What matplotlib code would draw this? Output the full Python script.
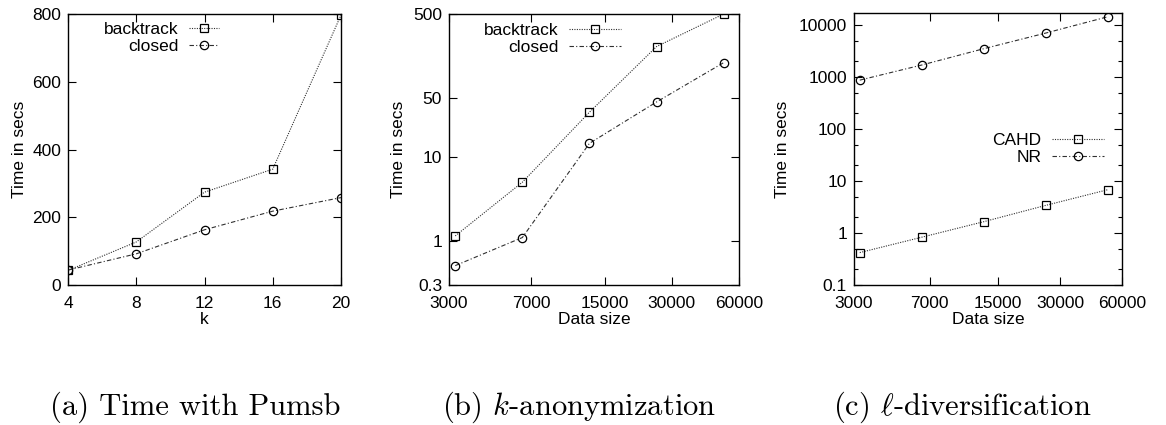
import numpy as np
import matplotlib
matplotlib.use('Agg')
import matplotlib.pyplot as plt
from matplotlib.ticker import FixedLocator, NullFormatter, LogLocator, NullLocator

plt.rcParams['font.family'] = ['Liberation Sans', 'DejaVu Sans']
plt.rcParams['mathtext.fontset'] = 'cm'

# (a) time with Pumsb
k_vals = [4, 8, 12, 16, 20]
a_backtrack = [43, 127, 274, 342, 797]
a_closed = [44, 92, 163, 218, 258]

# (b) k-anonymization
size_vals = [3200, 6400, 12800, 25600, 51200]
b_backtrack = [1.15, 5.0, 34, 205, 500]
b_closed = [0.51, 1.1, 14.5, 45, 132]

# (c) l-diversification
c_cahd = [0.42, 0.83, 1.65, 3.4, 6.8]
c_nr = [870, 1700, 3500, 7000, 14400]

size_ticks = [3000, 7000, 15000, 30000, 60000]
b_yticks = [0.3, 1, 10, 50, 500]
c_yticks = [0.1, 1, 10, 100, 1000, 10000]

captions = ['(a) Time with Pumsb', '(b) $k$-anonymization', r'(c) $\ell$-diversification']

W, H = 1166, 425
fig = plt.figure(figsize=(W / 100, H / 100), dpi=100)

def box(l, t, r, b):
    return [l / W, 1 - b / H, (r - l) / W, (b - t) / H]

ax_a = fig.add_axes(box(68, 14, 341, 285))
ax_b = fig.add_axes(box(449, 14, 739, 285))
ax_c = fig.add_axes(box(854, 13, 1122, 285))

fs = 12.5
lc = '#303030'
sq = dict(marker='s', markersize=6, markerfacecolor='none', markeredgecolor='black', markeredgewidth=0.9)
ci = dict(marker='o', markersize=6, markerfacecolor='none', markeredgecolor='black', markeredgewidth=0.9)

def style(ax):
    ax.tick_params(which='major', direction='in', length=5.5, width=0.8, top=True, right=True, labelsize=fs, pad=5)
    ax.tick_params(axis='x', which='major', pad=8)
    ax.tick_params(which='minor', direction='in', length=3, width=0.8, top=True, right=True)
    for s in ax.spines.values():
        s.set_linewidth(1.0)

def legend(ax, x_right, y_top, hl):
    ax.legend(loc='upper right', bbox_to_anchor=(x_right / W, 1 - y_top / H), bbox_transform=fig.transFigure,
              frameon=False, markerfirst=False, fontsize=fs, handlelength=hl, handletextpad=0.6,
              labelspacing=0.1, borderpad=0, borderaxespad=0)

# panel (a)
ax_a.plot(k_vals, a_backtrack, linestyle=(0, (1, 1.2)), color=lc, linewidth=0.8, label='backtrack', **sq)
ax_a.plot(k_vals, a_closed, linestyle=(0, (4, 2, 1, 2)), color=lc, linewidth=0.8, label='closed', **ci)
ax_a.set_xlim(4, 20)
ax_a.set_ylim(0, 800)
ax_a.set_xticks(k_vals)
ax_a.set_yticks([0, 200, 400, 600, 800])
ax_a.set_xlabel('k', fontsize=fs, labelpad=1)
ax_a.set_ylabel('Time in secs', fontsize=fs, labelpad=4)
style(ax_a)
legend(ax_a, 219, 22, 1.75)

# panel (b)
ax_b.plot(size_vals, b_backtrack, linestyle=(0, (1, 1.2)), color=lc, linewidth=0.8, label='backtrack', **sq)
ax_b.plot(size_vals, b_closed, linestyle=(0, (4, 2, 1, 2)), color=lc, linewidth=0.8, label='closed', **ci)
ax_b.set_xscale('log')
ax_b.set_yscale('log')
ax_b.set_xlim(3000, 60000)
ax_b.set_ylim(0.3, 500)
ax_b.xaxis.set_major_locator(FixedLocator(size_ticks))
ax_b.set_xticklabels([str(v) for v in size_ticks])
ax_b.xaxis.set_minor_locator(NullLocator())
ax_b.yaxis.set_major_locator(FixedLocator(b_yticks))
ax_b.set_yticklabels(['0.3', '1', '10', '50', '500'])
ax_b.yaxis.set_minor_locator(NullLocator())
ax_b.set_xlabel('Data size', fontsize=fs, labelpad=1)
ax_b.set_ylabel('Time in secs', fontsize=fs, labelpad=5)
style(ax_b)
legend(ax_b, 621, 23, 3.0)

# panel (c)
ax_c.plot(size_vals, c_cahd, linestyle=(0, (1, 1.2)), color=lc, linewidth=0.8, label='CAHD', **sq)
ax_c.plot(size_vals, c_nr, linestyle=(0, (4, 2, 1, 2)), color=lc, linewidth=0.8, label='NR', **ci)
ax_c.set_xscale('log')
ax_c.set_yscale('log')
ax_c.set_xlim(3000, 60000)
ax_c.set_ylim(0.1, 17000)
ax_c.xaxis.set_major_locator(FixedLocator(size_ticks))
ax_c.set_xticklabels([str(v) for v in size_ticks])
ax_c.xaxis.set_minor_locator(NullLocator())
ax_c.yaxis.set_major_locator(FixedLocator(c_yticks))
ax_c.set_yticklabels(['0.1', '1', '10', '100', '1000', '10000'])
ax_c.yaxis.set_minor_locator(LogLocator(base=10, subs=(2.0, 5.0)))
ax_c.yaxis.set_minor_formatter(NullFormatter())
ax_c.set_xlabel('Data size', fontsize=fs, labelpad=1)
ax_c.set_ylabel('Time in secs', fontsize=fs, labelpad=6)
style(ax_c)
legend(ax_c, 1104, 133, 3.0)

# sub-figure captions
for cx, txt in zip([195, 579, 962], captions):
    fig.text(cx / W, 1 - 415 / H, txt, ha='center', va='baseline', fontsize=22, family='cmr10')

fig.savefig('out.png', dpi=100)
